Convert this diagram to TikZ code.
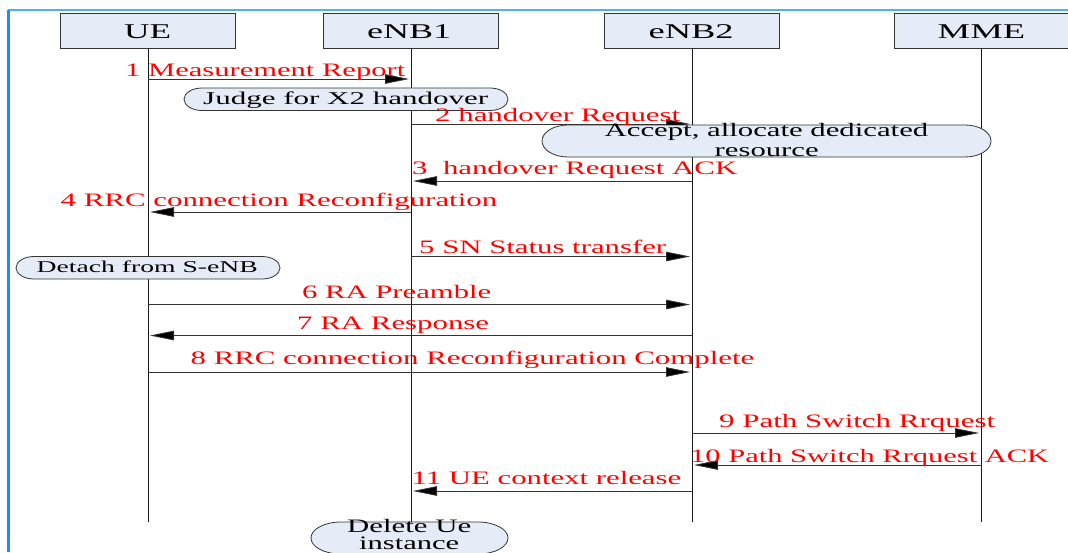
\documentclass[tikz,border=0pt]{standalone}
\usepackage{fontspec}
\usepackage{graphicx}
\setmainfont{Liberation Serif}
\usetikzlibrary{arrows.meta}
\definecolor{boxfill}{HTML}{E6ECF7}
\definecolor{linedark}{HTML}{333333}
\definecolor{frameleft}{HTML}{1E90DC}
\definecolor{frametop}{HTML}{4FB2EF}
\tikzset{
  header/.style={draw=linedark,fill=boxfill,line width=0.9pt,minimum width=175pt,minimum height=35pt,inner sep=0pt},
  lifeline/.style={draw=black!90,line width=1pt},
  msg/.style={draw=linedark,line width=0.8pt,-{Triangle[length=24pt,width=9.5pt,fill=black]},shorten >=2pt},
  lab/.style={text=red,inner sep=0pt,anchor=base west},
  pilltext/.style={text=black,inner sep=0pt,anchor=base west},
  headtext/.style={text=black,inner sep=0pt,anchor=base west},
  pill/.style={draw=linedark,fill=boxfill,line width=0.8pt}
}
% text stretched to an exact width, as in the picture
\newcommand{\fitn}[3]{\resizebox{#1pt}{\height}{\fontsize{#2pt}{#2pt}\selectfont #3}}
% pill with elliptical ends: name, x0, y0, x1, y1, rx
\newcommand{\pillshape}[6]{%
  \pgfmathsetmacro{\ry}{(#5-#3)/2}%
  \coordinate (#1) at ({(#2+#4)/2},{(#3+#5)/2});
  \draw[pill] ({#2+#6},#3) -- ({#4-#6},#3) arc[start angle=-90,end angle=90,x radius=#6,y radius=\ry]
     -- ({#2+#6},#5) arc[start angle=90,end angle=270,x radius=#6,y radius=\ry] -- cycle;
}
\begin{document}
\begin{tikzpicture}[x=1pt,y=-1pt]
\useasboundingbox (0,0) rectangle (1068,552);
\clip (0,0) rectangle (1068,552);
\fill[white] (0,0) rectangle (1068,552);
% frame
\draw[frametop,line width=1.6pt] (8,10) -- (1068,10);
\draw[frameleft,line width=2.4pt] (8.5,10) -- (8.5,552);
% headers
\node[header] (ue) at (147.5,30.5) {};
\node[header] (enba) at (410.5,30.5) {};
\node[header] (enbb) at (692,30.5) {};
\node[header] (mme) at (981.5,30.5) {};
% lifeline ends
\coordinate (ueend) at (148,522);
\coordinate (enbaend) at (411,522);
\coordinate (enbbend) at (692,522);
\coordinate (mmeend) at (981,522);
\draw[lifeline] (ue.south -| ueend) -- (ueend);
\draw[lifeline] (enba.south -| enbaend) -- (enbaend);
\draw[lifeline] (enbb.south -| enbbend) -- (enbbend);
\draw[lifeline] (mme.south -| mmeend) -- (mmeend);
% messages
\draw[msg] (ueend |- 0,79) -- (enbaend |- 0,79);
\draw[msg] (enbaend |- 0,124) -- (enbbend |- 0,124);
\draw[msg] (enbbend |- 0,181) -- (enbaend |- 0,181);
\draw[msg] (enbaend |- 0,212) -- (ueend |- 0,212);
\draw[msg] (enbaend |- 0,256.5) -- (enbbend |- 0,256.5);
\draw[msg] (ueend |- 0,304.5) -- (enbbend |- 0,304.5);
\draw[msg] (enbbend |- 0,335.5) -- (ueend |- 0,335.5);
\draw[msg] (ueend |- 0,372) -- (enbbend |- 0,372);
\draw[msg] (enbbend |- 0,433) -- (mmeend |- 0,433);
\draw[msg] (mmeend |- 0,465) -- (enbbend |- 0,465);
\draw[msg] (enbbend |- 0,491) -- (enbaend |- 0,491);
% pills
\pillshape{judge}{184}{88}{508}{110.5}{18}
\pillshape{accept}{542}{125}{991}{157}{26}
\pillshape{detach}{16}{256.5}{280}{279}{18}
\pillshape{del}{311}{522}{508}{554}{30}
% header texts
\node[headtext] (uet) at (124,38) {\fitn{47}{21}{UE}};
\node[headtext] (enbat) at (367,38) {\fitn{84}{21}{eNB1}};
\node[headtext] (enbbt) at (648.5,38) {\fitn{85}{21}{eNB2}};
\node[headtext] (mmet) at (937.5,38) {\fitn{87.5}{21}{MME}};
% pill texts
\node[pilltext] (judget) at (203,104) {\fitn{285}{18}{Judge for X2 handover}};
\node[pilltext] (acceptt) at (604.5,136.5) {\fitn{323.5}{19}{Accept, allocate dedicated}};
\node[pilltext] (acceptu) at (714.5,156) {\fitn{104}{19}{resource}};
\node[pilltext] (detacht) at (36.5,272.5) {\fitn{221}{16.5}{Detach from S-eNB}};
\node[pilltext] (delt) at (347,532.5) {\fitn{124}{19}{Delete Ue}};
\node[pilltext] (delu) at (359,549.5) {\fitn{100}{19}{instance}};
% labels
\node[lab] (l1) at (125,76) {\fitn{280}{19}{1 Measurement Report}};
\node[lab] (l2) at (435,121) {\fitn{245}{19}{2 handover Request}};
\node[lab] (l3) at (412,174) {\fitn{325}{19}{3\ \ handover Request ACK}};
\node[lab] (l4) at (60.5,206.5) {\fitn{436.5}{19}{4 RRC connection Reconfiguration}};
\node[lab] (l5) at (419,253) {\fitn{247}{19}{5 SN Status transfer}};
\node[lab] (l6) at (302,298.5) {\fitn{189}{19}{6 RA Preamble}};
\node[lab] (l7) at (297,329) {\fitn{192}{19}{7 RA Response}};
\node[lab] (l8) at (190.5,364.5) {\fitn{563.5}{19}{8 RRC connection Reconfiguration Complete}};
\node[lab] (l9) at (719,427.5) {\fitn{276}{19}{9 Path Switch Rrquest}};
\node[lab] (l10) at (690,462) {\fitn{359}{19}{10 Path Switch Rrquest ACK}};
\node[lab] (l11) at (411.5,484) {\fitn{269.5}{19}{11 UE context release}};
\end{tikzpicture}
\end{document}
